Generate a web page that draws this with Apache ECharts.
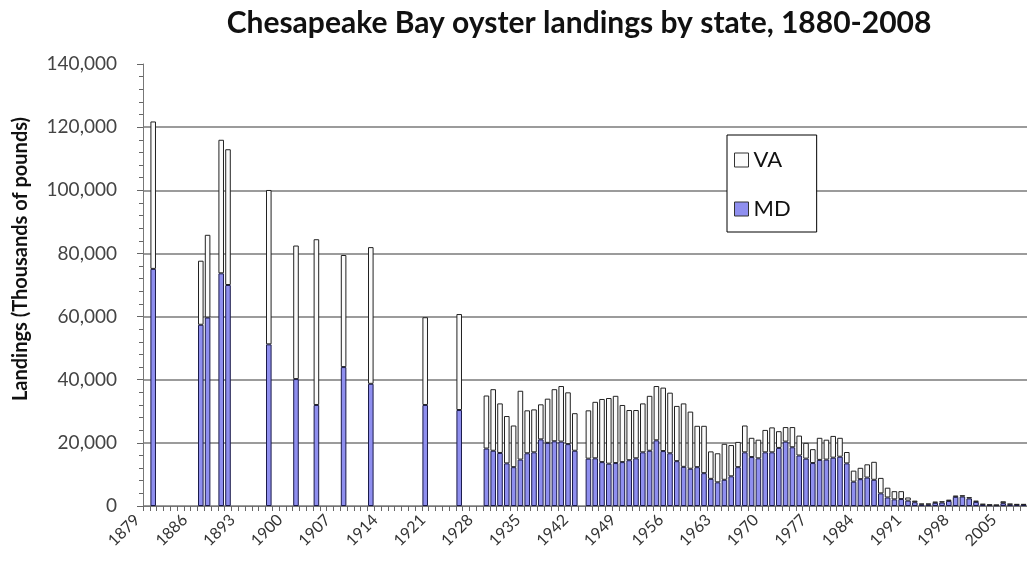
<!DOCTYPE html>
<html>
<head>
<meta charset="utf-8">
<script src="https://cdn.jsdelivr.net/npm/echarts@6/dist/echarts.min.js"></script>
<style>
  html, body { margin: 0; padding: 0; background: #fff; }
  #chart { width: 1027px; height: 581px; }
</style>
</head>
<body>
<div id="chart"></div>
<script>
// years shown on the category axis
var firstYear = 1879;
var lastYear = 2008;

// years that have a reported value
var years = [
  1880, 1887, 1888, 1890, 1891, 1897, 1901, 1904, 1908, 1912, 1920, 1925,
  1929, 1930, 1931, 1932, 1933, 1934, 1935, 1936, 1937, 1938, 1939, 1940, 1941, 1942,
  1944, 1945, 1946, 1947, 1948, 1949, 1950, 1951, 1952, 1953, 1954, 1955, 1956, 1957,
  1958, 1959, 1960, 1961, 1962, 1963, 1964, 1965, 1966, 1967, 1968, 1969, 1970, 1971,
  1972, 1973, 1974, 1975, 1976, 1977, 1978, 1979, 1980, 1981, 1982, 1983, 1984, 1985,
  1986, 1987, 1988, 1989, 1990, 1991, 1992, 1993, 1994, 1995, 1996, 1997, 1998, 1999,
  2000, 2001, 2002, 2003, 2004, 2005, 2006, 2007, 2008
];

// Maryland landings, thousands of pounds
var md = [
  75100, 57400, 59700, 73700, 70000, 51200, 40200, 32000, 44000, 38700, 32000, 30400,
  18200, 17500, 16800, 13500, 12300, 14700, 16700, 17000, 21100, 20000, 20500, 20400, 19600, 17500,
  15000, 15100, 13900, 13400, 13600, 13900, 14500, 15100, 17000, 17500, 20800, 17400, 16700, 14200,
  12400, 11800, 12300, 10400, 8600, 7500, 8300, 9400, 12300, 17000, 15500, 15100, 17000, 17000,
  18400, 20400, 18600, 16000, 15000, 13600, 14600, 14700, 15300, 15600, 13500, 7700, 8500, 9000,
  8300, 4000, 2700, 2100, 2200, 1700, 1200, 500, 500, 1000, 1100, 1600, 2900, 3000,
  2400, 1300, 450, 300, 250, 900, 500, 400, 400
];

// Virginia landings, thousands of pounds
var va = [
  46700, 20300, 26200, 42300, 43000, 48900, 42300, 52500, 35500, 43300, 27800, 30400,
  16800, 19500, 15700, 15000, 13200, 21800, 13600, 13600, 11100, 14000, 16500, 17600, 16400, 11900,
  15300, 17900, 20000, 20800, 21300, 18100, 15900, 15300, 15500, 17400, 17200, 20100, 19200, 17500,
  20100, 18100, 13100, 15000, 8700, 9200, 11400, 9900, 8000, 8500, 6100, 5900, 7100, 7900,
  5300, 4600, 6400, 6300, 5000, 4400, 7000, 6300, 6900, 6000, 3600, 3500, 3600, 4200,
  5700, 4900, 3100, 2600, 2500, 1000, 500, 250, 250, 400, 400, 400, 400, 400,
  400, 400, 200, 150, 100, 600, 200, 200, 200
];

var yTicks = [0, 20000, 40000, 60000, 80000, 100000, 120000, 140000];

var categories = [];
for (var y = firstYear; y <= lastYear; y++) {
  categories.push(String(y));
}

function fullSeries(values) {
  return categories.map(function (c) {
    var i = years.indexOf(Number(c));
    return i >= 0 ? values[i] : null;
  });
}

var font = "Lato, 'Noto Sans', sans-serif";

var myChart = echarts.init(document.getElementById('chart'));

var option = {
  backgroundColor: '#fff',
  animation: false,
  title: {
    text: 'Chesapeake Bay oyster landings by state, 1880-2008',
    left: 574,
    top: 3,
    textAlign: 'center',
    textStyle: {
      fontFamily: font,
      fontSize: 30,
      fontWeight: 'bold',
      color: '#111'
    }
  },
  legend: {
    data: ['VA', 'MD'],
    orient: 'vertical',
    left: 727,
    top: 135,
    padding: [14, 26, 12, 7],
    itemGap: 27,
    itemWidth: 14,
    itemHeight: 14,
    borderColor: '#000',
    borderWidth: 1,
    backgroundColor: '#fff',
    icon: 'rect',
    itemStyle: {
      borderColor: '#333',
      borderWidth: 1
    },
    textStyle: {
      fontFamily: font,
      fontSize: 22,
      color: '#111'
    }
  },
  grid: {
    left: 143,
    right: -4,
    top: 64,
    bottom: 75
  },
  xAxis: {
    type: 'category',
    data: categories,
    boundaryGap: true,
    axisLine: {
      lineStyle: { color: '#777', width: 1 }
    },
    axisTick: {
      show: true,
      interval: 0,
      length: 5,
      lineStyle: { color: '#666' }
    },
    axisLabel: {
      interval: 6,
      rotate: 45,
      margin: 2,
      padding: [0, 13, 0, 0],
      fontFamily: font,
      fontSize: 16,
      color: '#333'
    }
  },
  yAxis: {
    type: 'value',
    min: yTicks[0],
    max: yTicks[yTicks.length - 1],
    interval: yTicks[1] - yTicks[0],
    axisLine: {
      show: true,
      lineStyle: { color: '#777', width: 1 }
    },
    axisTick: {
      show: true,
      length: 6,
      lineStyle: { color: '#666' }
    },
    minorTick: {
      show: true,
      splitNumber: 5,
      length: 4,
      lineStyle: { color: '#666' }
    },
    splitLine: {
      show: true,
      showMaxLine: false,
      lineStyle: { color: '#7a7a7a', width: 1.5 }
    },
    axisLabel: {
      margin: 26,
      fontFamily: font,
      fontSize: 19,
      color: '#444',
      formatter: function (v) {
        return v.toLocaleString('en-US');
      }
    }
  },
  graphic: [
    {
      type: 'text',
      x: 21,
      y: 259,
      rotation: Math.PI / 2,
      style: {
        text: 'Landings (Thousands of pounds)',
        fontFamily: font,
        fontSize: 20,
        fontWeight: 'bold',
        fill: '#111',
        textAlign: 'center',
        textVerticalAlign: 'middle'
      }
    }
  ],
  series: [
    {
      name: 'MD',
      type: 'bar',
      stack: 'total',
      barWidth: '82%',
      itemStyle: {
        color: '#8f8fef',
        borderColor: '#1b1b4a',
        borderWidth: 1
      },
      data: fullSeries(md)
    },
    {
      name: 'VA',
      type: 'bar',
      stack: 'total',
      barWidth: '82%',
      itemStyle: {
        color: '#fbfbfb',
        borderColor: '#222',
        borderWidth: 1
      },
      data: fullSeries(va)
    }
  ]
};

myChart.setOption(option);
</script>
</body>
</html>
